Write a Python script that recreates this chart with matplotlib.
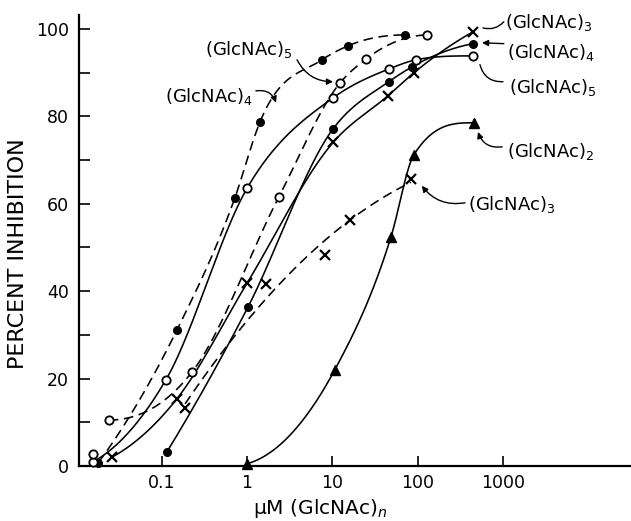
import numpy as np
import matplotlib
matplotlib.use("Agg")
import matplotlib.pyplot as plt

plt.rcParams["font.family"] = ["DejaVu Sans"]
plt.rcParams["mathtext.fontset"] = "dejavusans"

# solid curves
tri_x = [1.0, 10.7, 48.7, 90.5, 458]
tri_y = [0.5, 22.0, 52.4, 71.2, 78.5]

cross_x = [0.026, 0.15, 1.0, 10.2, 45, 90, 445]
cross_y = [2.0, 15.3, 41.8, 74.0, 84.7, 89.9, 99.3]

fill_x = [0.115, 1.03, 10.2, 46, 86, 445]
fill_y = [3.2, 36.4, 77.1, 87.9, 91.3, 96.6]

open_x = [0.0155, 0.112, 1.0, 10.2, 46, 95.6, 445]
open_y = [0.9, 19.7, 63.5, 84.2, 90.8, 92.9, 93.8]

# dashed curves
dcross_x = [0.188, 1.67, 8.2, 16.1, 83.6]
dcross_y = [13.3, 41.6, 48.3, 56.3, 65.7]

dfill_x = [0.018, 0.151, 0.72, 1.42, 7.56, 15.3, 71]
dfill_y = [0.7, 31.1, 61.3, 78.7, 92.9, 96.1, 98.6]

dopen_x = [0.0155, 0.024, 0.227, 2.37, 12.3, 24.5, 128]
dopen_y = [2.7, 10.5, 21.5, 61.6, 87.6, 93.0, 98.6]


def smooth(xs, ys, deg=None, n=300):
    # curve through the points in log10(x): monotone cubic Hermite,
    # or a least-squares polynomial when deg is given
    lx = np.log10(np.asarray(xs, float))
    y = np.asarray(ys, float)
    gx = np.linspace(lx[0], lx[-1], n)
    if deg is not None:
        return 10**gx, np.polyval(np.polyfit(lx, y, deg), gx)
    h = np.diff(lx)
    d = np.diff(y) / h
    m = np.empty_like(y)
    m[1:-1] = (h[1:] * d[:-1] + h[:-1] * d[1:]) / (h[:-1] + h[1:])
    m[0] = ((2 * h[0] + h[1]) * d[0] - h[0] * d[1]) / (h[0] + h[1])
    m[-1] = ((2 * h[-1] + h[-2]) * d[-1] - h[-1] * d[-2]) / (h[-1] + h[-2])
    if m[0] * d[0] < 0:
        m[0] = 0
    if m[-1] * d[-1] < 0:
        m[-1] = 0
    # Fritsch-Carlson limiter, keeps each piece from overshooting
    for k in range(len(d)):
        a, b = m[k] / d[k], m[k + 1] / d[k]
        r = a * a + b * b
        if r > 9:
            tau = 3 / np.sqrt(r)
            m[k], m[k + 1] = tau * a * d[k], tau * b * d[k]
    k = np.clip(np.searchsorted(lx, gx) - 1, 0, len(h) - 1)
    t = (gx - lx[k]) / h[k]
    h00 = 2 * t**3 - 3 * t**2 + 1
    h10 = t**3 - 2 * t**2 + t
    h01 = -2 * t**3 + 3 * t**2
    h11 = t**3 - t**2
    gy = h00 * y[k] + h10 * h[k] * m[k] + h01 * y[k + 1] + h11 * h[k] * m[k + 1]
    return 10**gx, gy


fig = plt.figure(figsize=(6.31, 5.21), dpi=100)
ax = fig.add_axes([0.125, 0.1056, 0.875, 0.866])

lw = 1.15
dash = (0, (6, 3.5))

# solid lines
for xs, ys in [(tri_x, tri_y), (cross_x, cross_y), (fill_x, fill_y), (open_x, open_y)]:
    cx, cy = smooth(xs, ys)
    ax.plot(cx, cy, color="black", lw=lw, zorder=2)

# dashed lines (open-circle curve starts at its second point)
for xs, ys, deg in [(dcross_x, dcross_y, 2), (dfill_x, dfill_y, None),
                    (dopen_x[1:], dopen_y[1:], None)]:
    cx, cy = smooth(xs, ys, deg)
    ax.plot(cx, cy, color="black", lw=lw, linestyle=dash, zorder=2)

# markers
ax.plot(tri_x, tri_y, "^", color="black", ms=7.5, zorder=3, clip_on=False)
ax.plot(cross_x + dcross_x, cross_y + dcross_y, "x", color="black", ms=6.5, mew=1.6, zorder=3)
ax.plot(fill_x + dfill_x, fill_y + dfill_y, "o", color="black", ms=5.5, zorder=3, clip_on=False)
ax.plot(open_x + dopen_x, open_y + dopen_y, "o", mfc="white", mec="black", mew=1.3, ms=6,
        zorder=3, clip_on=False)

ax.set_xscale("log")
ax.set_xlim(0.0107, 31700)
ax.set_ylim(0, 103.2)

ax.set_xticks([0.1, 1, 10, 100, 1000])
ax.set_xticklabels(["0.1", "1", "10", "100", "1000"])
ax.xaxis.set_minor_locator(matplotlib.ticker.NullLocator())
ax.set_yticks([0, 20, 40, 60, 80, 100])
ax.set_yticks([10, 30, 50, 70, 90], minor=True)

for s in ["top", "right"]:
    ax.spines[s].set_visible(False)
for s in ["left", "bottom"]:
    ax.spines[s].set_linewidth(1.6)

ax.tick_params(axis="x", which="major", direction="in", length=7, width=1.2,
               labelsize=12.5, pad=6)
ax.tick_params(axis="y", which="both", direction="in", length=8, width=1.2,
               labelsize=12.5, pad=7)

ax.set_ylabel("PERCENT INHIBITION", fontsize=16)
ax.yaxis.set_label_coords(-0.093, 0.47)
ax.set_xlabel("μM (GlcNAc)$_n$", fontsize=14.5)
ax.xaxis.set_label_coords(0.437, -0.068)

fs = 13
arrow = dict(arrowstyle="-|>", color="black", lw=1.0, mutation_scale=9,
             shrinkA=0, shrinkB=0)
line = dict(arrowstyle="-", color="black", lw=1.0, shrinkA=0, shrinkB=0)

# left-hand labels
ax.text(3.46, 95.2, "(GlcNAc)$_5$", fontsize=fs, ha="right", va="center")
ax.annotate("", xy=(10.2, 87.9), xytext=(3.86, 92.9),
            arrowprops=dict(arrow, connectionstyle="arc3,rad=0.3"))
ax.text(1.18, 84.4, "(GlcNAc)$_4$", fontsize=fs, ha="right", va="center")
ax.annotate("", xy=(2.19, 83.1), xytext=(1.27, 85.8),
            arrowprops=dict(arrow, connectionstyle="arc3,rad=-0.4"))

# right-hand labels
ax.text(1057, 101.4, "(GlcNAc)$_3$", fontsize=fs, ha="left", va="center")
ax.annotate("", xy=(584, 100.2), xytext=(1023, 101.6),
            arrowprops=dict(line, connectionstyle="arc3,rad=-0.3"))
ax.text(1110, 94.5, "(GlcNAc)$_4$", fontsize=fs, ha="left", va="center")
ax.annotate("", xy=(568, 96.8), xytext=(1023, 96.6), arrowprops=arrow)
ax.text(1170, 86.5, "(GlcNAc)$_5$", fontsize=fs, ha="left", va="center")
ax.annotate("", xy=(538, 91.8), xytext=(1000, 87.9),
            arrowprops=dict(line, connectionstyle="arc3,rad=-0.4"))
ax.text(1110, 71.9, "(GlcNAc)$_2$", fontsize=fs, ha="left", va="center")
ax.annotate("", xy=(510, 76.4), xytext=(980, 73.0),
            arrowprops=dict(arrow, connectionstyle="arc3,rad=-0.4"))
ax.text(391, 59.7, "(GlcNAc)$_3$", fontsize=fs, ha="left", va="center")
ax.annotate("", xy=(112, 64.1), xytext=(359, 60.2),
            arrowprops=dict(arrow, connectionstyle="arc3,rad=-0.3"))

fig.savefig("out.png", dpi=100)
